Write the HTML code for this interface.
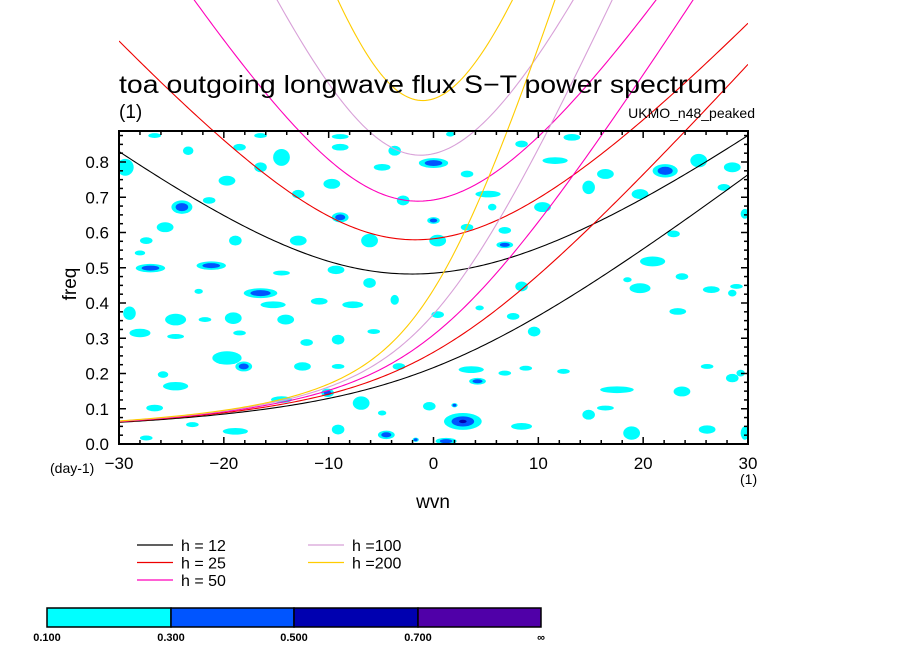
<!DOCTYPE html>
<html><head><meta charset="utf-8"><style>
html,body{margin:0;padding:0;background:#fff;}
svg{display:block;font-family:"Liberation Sans",sans-serif;}
</style></head><body>
<svg id="chart" width="904" height="654" viewBox="0 0 904 654" xmlns="http://www.w3.org/2000/svg">
<defs><clipPath id="plotclip"><rect x="119" y="131" width="629" height="313"/></clipPath>
<clipPath id="xclip"><rect x="119" y="0" width="629" height="444"/></clipPath></defs>
<rect x="0" y="0" width="904" height="654" fill="#fff"/>
<g id="blobs" clip-path="url(#plotclip)"></g>
<g id="curves" clip-path="url(#xclip)"></g>
<rect x="119" y="131" width="629" height="313" fill="none" stroke="#000" stroke-width="2"/>
<g id="ticks"></g>
<text x="119" y="93" font-size="25" textLength="608" lengthAdjust="spacingAndGlyphs" fill="#000">toa outgoing longwave flux S−T power spectrum</text>
<text x="119" y="118" font-size="19" fill="#000">(1)</text>
<text x="755" y="118" font-size="14" text-anchor="end" fill="#000">UKMO_n48_peaked</text>
<text x="433" y="508" font-size="19" text-anchor="middle" fill="#000">wvn</text>
<text transform="translate(76,284) rotate(-90)" font-size="19" text-anchor="middle" fill="#000">freq</text>
<text x="50" y="473" font-size="14" fill="#000">(day-1)</text>
<text x="740" y="484" font-size="14" fill="#000">(1)</text>
<g id="legend"></g>
<g id="colorbar"></g>
</svg>
<script>
const hValues=[12,25,50,100,200];
const hLabels=["h = 12","h = 25","h = 50","h =100","h =200"];
const hColors=["#000000","#ee0000","#ff00bb","#d8a0d8","#ffcc00"];
const xTicks=[-30,-20,-10,0,10,20,30];
const yTicks=[0,0.1,0.2,0.3,0.4,0.5,0.6,0.7,0.8];
const yTickLabels=["0.0","0.1","0.2","0.3","0.4","0.5","0.6","0.7","0.8"];
const levelLabels=["0.100","0.300","0.500","0.700","∞"];
const levelColors=["#00ffff","#0055ff","#0000b0","#5000a8"];
// blobs: [wvn, freq, half-width(wvn), half-height(freq), level]
const blobW=[-28.0,-27.0,-21.2,-22.4,-16.5,-14.5,-9.3,-6.1,-29.0,-24.6,-21.8,-19.1,-14.1,-15.3,-10.9,-7.7,-3.7,0.4,4.4,7.6,8.4,9.6,19.7,20.9,23.3,18.5,28.5,-28.0,-24.6,-18.5,-12.1,-9.1,-5.7,-19.7,-25.8,-18.1,-12.5,-9.1,-3.3,3.6,6.8,8.8,12.4,17.5,23.7,28.5,4.2,-24.6,-14.5,-10.1,-6.9,-0.4,2.0,2.8,-4.9,-9.1,-4.5,1.2,-1.7,14.8,18.9,26.1,29.7,-26.6,-23.0,-18.9,-27.4,8.4,16.4,26.1,29.3,23.7,26.5,28.9,
-29.4,-23.4,-24.0,-25.6,-21.4,-18.5,-19.7,-16.5,-14.5,-12.9,-8.9,-9.7,-8.9,-3.7,0.0,-4.9,-2.9,0.0,0.4,3.2,5.2,8.4,11.6,13.2,14.8,16.4,19.7,22.1,25.3,28.5,27.7,22.9,29.7,6.8,6.8,3.2,-6.1,-12.9,-18.9,-27.4,10.4,5.6,-26.6,-16.5,-8.9,1.6];
const blobF=[.542,.499,.506,.433,.428,.485,.494,.457,.371,.353,.353,.357,.353,.395,.405,.395,.409,.367,.386,.362,.447,.319,.442,.518,.376,.466,.428,.315,.305,.315,.288,.296,.319,.244,.197,.220,.220,.220,.220,.211,.201,.215,.206,.154,.149,.187,.178,.164,.126,.145,.116,.107,.110,.064,.088,.041,.026,.008,.012,.083,.031,.041,.031,.102,.055,.036,.017,.050,.102,.220,.201,.475,.438,.447,
.785,.832,.672,.615,.691,.842,.747,.785,.813,.709,.842,.738,.643,.832,.797,.785,.691,.634,.577,.766,.709,.851,.804,.870,.728,.766,.709,.775,.804,.785,.728,.596,.653,.606,.565,.615,.577,.577,.577,.577,.672,.672,.875,.875,.872,.879];
const blobRW=[.5,1.4,1.4,.4,1.6,.8,.8,.6,.6,1.0,.6,.8,.8,1.2,.8,1.0,.4,.6,.4,.6,.6,.6,1.0,1.2,.8,.4,.4,1.0,.8,.6,.6,.6,.6,1.4,.5,.8,.8,.6,.6,1.2,.6,.6,.6,1.6,.8,.6,.8,1.2,1.0,.6,.8,.6,.3,1.8,.4,.6,.8,1.0,.3,.6,.8,.8,.4,.8,.6,1.2,.6,1.0,.8,.6,.4,.6,.8,.6,
.8,.5,1.0,.8,.6,.6,.8,.6,.8,.6,.8,.8,.8,.6,1.4,.8,.6,.6,.8,.6,1.2,.6,1.2,.8,.6,.8,.8,1.2,.8,.8,.6,.6,.4,.6,.8,.6,.8,.8,.6,.6,.8,.4,.6,.6,.8,.4];
const blobRF=[.007,.012,.012,.007,.014,.007,.012,.014,.019,.0165,.007,.0165,.014,.0095,.0095,.0095,.014,.0095,.007,.0095,.014,.014,.014,.014,.0095,.007,.0095,.012,.007,.007,.0095,.014,.007,.019,.0095,.014,.012,.007,.0095,.0095,.007,.007,.007,.0095,.014,.012,.0095,.012,.0095,.012,.019,.012,.006,.024,.007,.014,.012,.0095,.006,.014,.019,.012,.019,.0095,.007,.0095,.007,.0095,.007,.007,.0095,.0095,.0095,.007,
.024,.012,.019,.014,.0095,.0095,.014,.014,.024,.012,.0095,.014,.014,.014,.014,.0095,.014,.0095,.0165,.0095,.0095,.0095,.0095,.0095,.019,.014,.014,.019,.019,.014,.0095,.0095,.014,.0095,.0095,.0095,.019,.014,.014,.0095,.014,.0095,.007,.007,.007,.007];
const blobL=[1,2,2,1,2,1,1,1,1,1,1,1,1,1,1,1,1,1,1,1,1,1,1,1,1,1,1,1,1,1,1,1,1,1,1,2,1,1,1,1,1,1,1,1,1,1,2,1,1,2,1,1,2,3,1,1,2,2,2,1,1,1,1,1,1,1,1,1,1,1,1,1,1,1,
1,1,2,1,1,1,1,1,1,1,1,1,2,1,2,1,1,2,1,1,1,1,1,1,1,1,1,2,1,1,1,1,1,1,2,1,1,1,1,1,1,1,1,1,1,1];

const NS="http://www.w3.org/2000/svg";
const X=w=>119+(w+30)*629/60;
const Y=f=>444-f*352.5;
function mk(tag,attrs,parent){const e=document.createElementNS(NS,tag);for(const k in attrs)e.setAttribute(k,attrs[k]);parent.appendChild(e);return e;}

const gb=document.getElementById('blobs');
for(let i=0;i<blobW.length;i++){
  for(let l=0;l<blobL[i];l++){
    const s=1-l*0.4;
    const e=mk('ellipse',{cx:X(blobW[i]),cy:Y(blobF[i]),rx:Math.max(1.5,blobRW[i]*s*629/60),ry:Math.max(1.5,blobRF[i]*s*352.5),fill:levelColors[l]},gb);
    
    
  }
}

const beta=2.29e-11,R=6.371e6,g=9.81,toCpd=86400/(2*Math.PI);
function mrg(k,c){return k*c/2+Math.sqrt(k*k*c*c/4+beta*c);}
function ig2(k,c){let w=Math.sqrt(k*k*c*c+5*beta*c)+1e-5;for(let i=0;i<60;i++){const f=w*w*w-(k*k*c*c+5*beta*c)*w-beta*k*c*c;const d=3*w*w-(k*k*c*c+5*beta*c);w-=f/d;}return w;}
const gc=document.getElementById('curves');
hValues.forEach((h,i)=>{
  const c=Math.sqrt(g*h);
  [mrg,ig2].forEach((fn,j)=>{
    let d='';
    for(let s=-30;s<=30.001;s+=0.25){const f=fn(s/R,c)*toCpd;const y=Y(f);d+=(d?'L':'M')+X(s).toFixed(2)+','+y.toFixed(2);}
    const p=mk('path',{d:d,fill:'none',stroke:hColors[i],'stroke-width':1.1},gc);
    
    
  });
});

const gt=document.getElementById('ticks');
for(let w=-30;w<=30;w+=2){const major=(w%10===0);const L=major?7:4;
  mk('line',{x1:X(w),x2:X(w),y1:444,y2:444-L,stroke:'#000','stroke-width':1.5},gt);
  mk('line',{x1:X(w),x2:X(w),y1:131,y2:131+L,stroke:'#000','stroke-width':1.5},gt);}
for(let k=0;k<=35;k++){const f=k*0.025;const major=(k%4===0);const L=major?7:4;
  mk('line',{x1:119,x2:119+L,y1:Y(f),y2:Y(f),stroke:'#000','stroke-width':1.5},gt);
  mk('line',{x1:748,x2:748-L,y1:Y(f),y2:Y(f),stroke:'#000','stroke-width':1.5},gt);}
xTicks.forEach(w=>{const t=mk('text',{x:X(w),y:469,'font-size':17,'text-anchor':'middle',fill:'#000'},gt);t.textContent=(w<0?'−'+(-w):String(w));
  
  });
yTicks.forEach((f,i)=>{const t=mk('text',{x:109,y:Y(f)+6,'font-size':17,'text-anchor':'end',fill:'#000'},gt);t.textContent=yTickLabels[i];
  
  });

const gl=document.getElementById('legend');
hValues.forEach((h,i)=>{
  const col=i<3?0:1,row=i<3?i:i-3;
  const lx=col?308:137,ly=545+row*17.5;
  const ln=mk('line',{x1:lx,x2:lx+36,y1:ly,y2:ly,stroke:hColors[i],'stroke-width':1.2},gl);
  
  
  const t=mk('text',{x:lx+44,y:ly+6,'font-size':16,fill:'#000'},gl);t.textContent=hLabels[i];
  
  
});

const gcb=document.getElementById('colorbar');
const cbX=[47,171,294,418,541];
for(let i=0;i<4;i++){const r=mk('rect',{x:cbX[i],y:608,width:cbX[i+1]-cbX[i],height:19,fill:levelColors[i],stroke:'#000','stroke-width':1.5},gcb);
  
  }
levelLabels.forEach((s,i)=>{const t=mk('text',{x:cbX[i],y:641,'font-size':11,'font-weight':'bold','text-anchor':'middle',fill:'#000'},gcb);t.textContent=s;
  
  });
</script>
</body></html>
